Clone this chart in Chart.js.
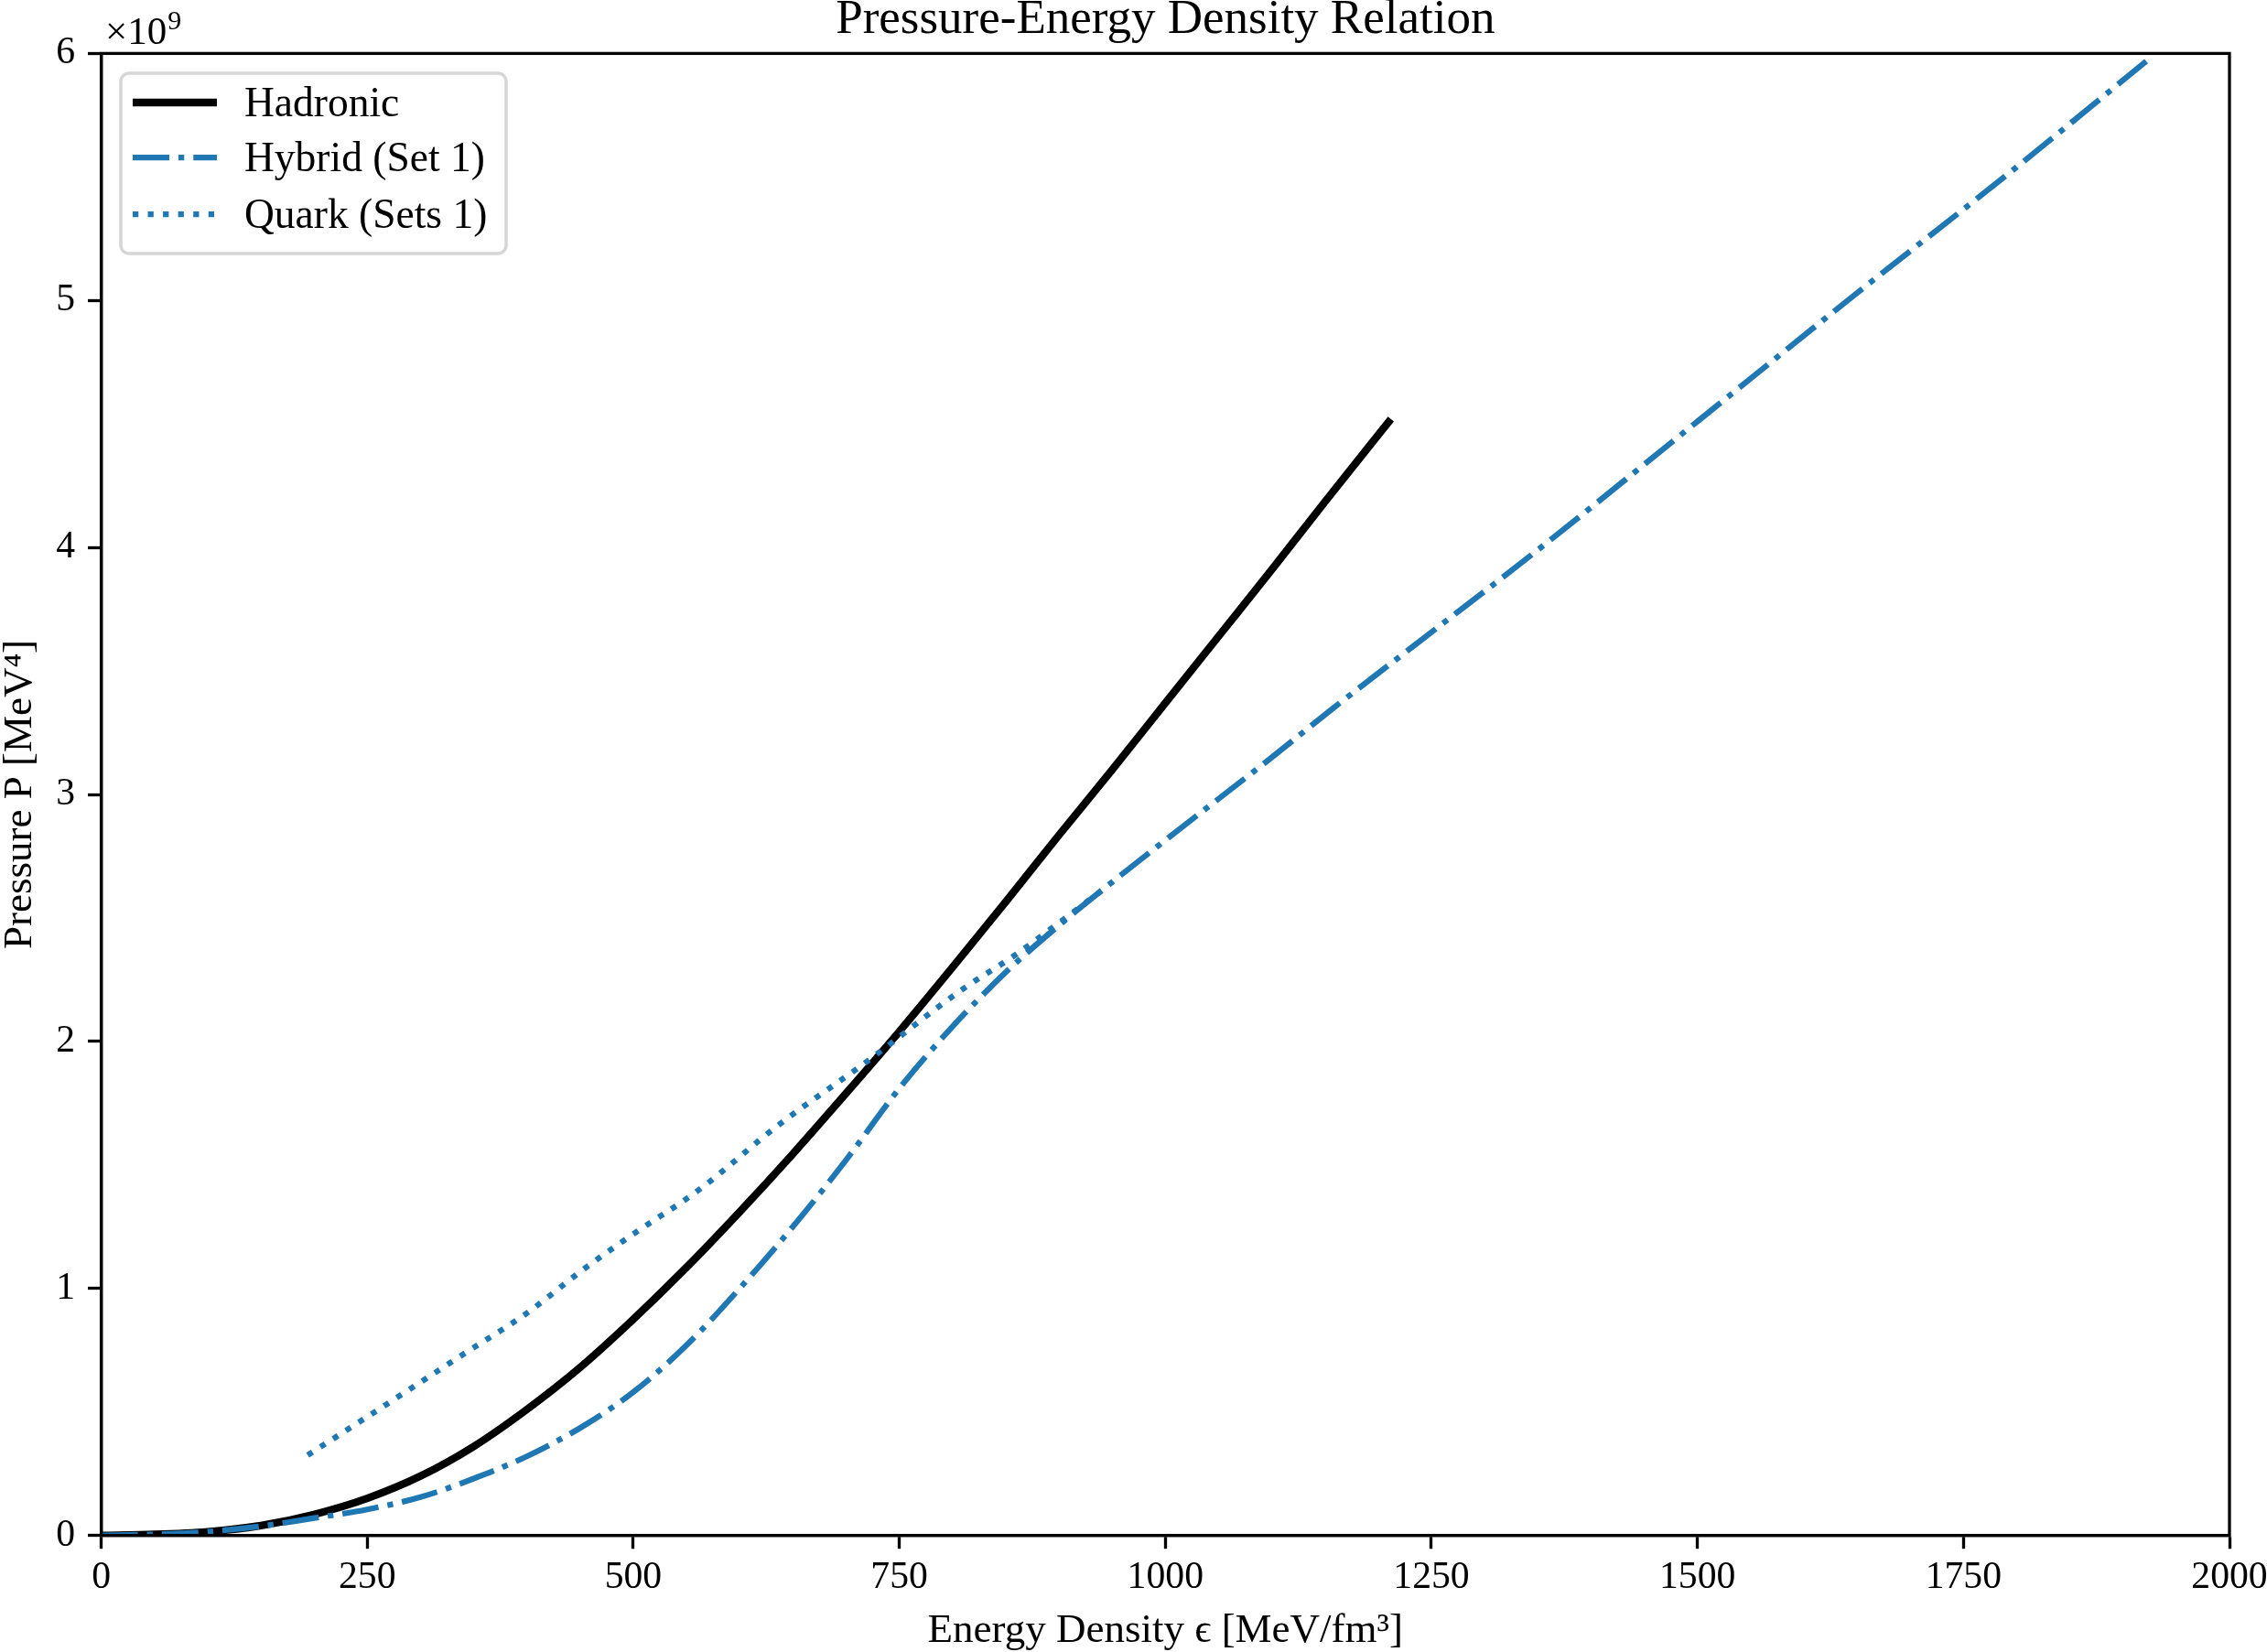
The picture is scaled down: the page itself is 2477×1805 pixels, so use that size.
<!DOCTYPE html>
<html>
<head>
<meta charset="utf-8">
<script src="https://cdn.jsdelivr.net/npm/chart.js@4.4.1/dist/chart.umd.min.js"></script>
<style>
  html, body { margin: 0; padding: 0; background: #fff; }
  #wrap { width: 2477px; height: 1805px; }
</style>
</head>
<body>
<div id="wrap"><canvas id="eosChart" width="2477" height="1805"></canvas></div>
<script>
// energy density [MeV/fm^3] vs pressure [x1e9 MeV^4]
const hadronicEps = [0, 50, 100, 150, 200, 250, 300, 350, 400, 450, 500, 550, 600, 650, 700, 750, 800, 850, 900, 950, 1000, 1050, 1100, 1150, 1212];
const hadronicP = [0, 0.004, 0.015, 0.04, 0.085, 0.15, 0.24, 0.36, 0.51, 0.68, 0.875, 1.085, 1.31, 1.545, 1.79, 2.04, 2.30, 2.565, 2.835, 3.10, 3.37, 3.64, 3.91, 4.185, 4.52];

const hybridEps = [0, 50, 100, 150, 200, 250, 300, 350, 400, 450, 500, 550, 600, 650, 700, 750, 800, 850, 900, 950, 1000, 1100, 1158, 1242, 1350, 1500, 1650, 1800, 1925];
const hybridP = [0, 0.004, 0.015, 0.037, 0.07, 0.105, 0.155, 0.23, 0.32, 0.435, 0.58, 0.77, 1.0, 1.25, 1.52, 1.81, 2.06, 2.28, 2.47, 2.645, 2.815, 3.15, 3.35, 3.63, 3.99, 4.51, 5.03, 5.54, 5.98];

const quarkEps = [194, 250, 300, 339, 400, 454, 500, 562, 636, 720, 809, 859, 900, 940];
const quarkP = [0.325, 0.48, 0.62, 0.73, 0.90, 1.08, 1.22, 1.40, 1.66, 1.92, 2.21, 2.35, 2.48, 2.61];

const xTicks = [0, 250, 500, 750, 1000, 1250, 1500, 1750, 2000];
const yTicks = [0, 1, 2, 3, 4, 5, 6];

const SERIF = "'Liberation Serif', 'DejaVu Serif', serif";
const BLUE = '#1f77b4';

const toPoints = (xs, ys) => xs.map((x, i) => ({ x: x, y: ys[i] }));

// title, x10^9 offset text, legend and the full axes frame
const decorations = {
  id: 'decorations',
  afterDraw(chart) {
    const { ctx, chartArea: a } = chart;
    ctx.save();

    ctx.strokeStyle = '#000';
    ctx.lineWidth = 3.3;
    ctx.strokeRect(a.left, a.top, a.right - a.left, a.bottom - a.top);

    ctx.fillStyle = '#000';
    ctx.textAlign = 'center';
    ctx.textBaseline = 'alphabetic';
    ctx.font = '53px ' + SERIF;
    ctx.fillText('Pressure-Energy Density Relation', (a.left + a.right) / 2, 36);

    ctx.textAlign = 'left';
    ctx.font = '43px ' + SERIF;
    ctx.fillText('\u00d710', 115, 48);
    const w = ctx.measureText('\u00d710').width;
    ctx.font = '30px ' + SERIF;
    ctx.fillText('9', 115 + w + 1, 32);

    // legend box
    const bx = 132, by = 80, bw = 421, bh = 197, r = 9;
    ctx.beginPath();
    ctx.roundRect(bx, by, bw, bh, r);
    ctx.fillStyle = 'rgba(255,255,255,0.8)';
    ctx.fill();
    ctx.lineWidth = 3.5;
    ctx.strokeStyle = '#d6d6d6';
    ctx.stroke();

    const rows = [112, 172, 234];
    chart.data.datasets.forEach((ds, i) => {
      const y = rows[i];
      ctx.beginPath();
      ctx.setLineDash(ds.borderDash || []);
      ctx.lineWidth = ds.borderWidth;
      ctx.strokeStyle = ds.borderColor;
      ctx.lineCap = 'butt';
      ctx.moveTo(145, y);
      ctx.lineTo(237, y);
      ctx.stroke();
      ctx.setLineDash([]);
      ctx.fillStyle = '#000';
      ctx.font = '45.5px ' + SERIF;
      ctx.fillText(ds.label, 267, y + 15);
    });
    ctx.restore();
  }
};

const ctx = document.getElementById('eosChart').getContext('2d');
const eosChart = new Chart(ctx, {
  type: 'scatter',
  data: {
    datasets: [{
      label: 'Hadronic',
      data: toPoints(hadronicEps, hadronicP),
      showLine: true,
      borderColor: '#000000',
      borderWidth: 8.3,
      pointRadius: 0,
      cubicInterpolationMode: 'monotone',
      order: 3
    }, {
      label: 'Hybrid (Set 1)',
      data: toPoints(hybridEps, hybridP),
      showLine: true,
      borderColor: BLUE,
      borderWidth: 6.25,
      borderDash: [40, 10, 6.25, 10],
      pointRadius: 0,
      cubicInterpolationMode: 'monotone',
      order: 2
    }, {
      label: 'Quark (Sets 1)',
      data: toPoints(quarkEps, quarkP),
      showLine: true,
      borderColor: BLUE,
      borderWidth: 6.25,
      borderDash: [6.25, 10.3],
      pointRadius: 0,
      cubicInterpolationMode: 'monotone',
      order: 1
    }]
  },
  options: {
    responsive: false,
    devicePixelRatio: 1,
    animation: false,
    layout: {
      padding: { top: 58.4, right: 41, left: 0, bottom: 0 }
    },
    plugins: {
      legend: { display: false },
      tooltip: { enabled: false }
    },
    scales: {
      x: {
        type: 'linear',
        min: 0,
        max: 2000,
        afterFit: s => { s.height = 127.4; s.paddingLeft = 0; s.paddingRight = 0; },
        afterBuildTicks: s => { s.ticks = xTicks.map(v => ({ value: v })); },
        grid: { drawOnChartArea: false, drawTicks: true, tickLength: 14.6, tickWidth: 3.3, tickColor: '#000' },
        border: { display: true, color: '#000', width: 3.3 },
        ticks: {
          color: '#000',
          padding: 7,
          maxRotation: 0,
          font: { family: SERIF, size: 41.7 },
          callback: v => String(v)
        },
        title: {
          display: true,
          text: 'Energy Density \u03f5 [MeV/fm\u00b3]',
          color: '#000',
          font: { family: SERIF, size: 45, lineHeight: 1 },
          padding: { top: 0, bottom: 0 }
        }
      },
      y: {
        type: 'linear',
        min: 0,
        max: 6,
        afterFit: s => { s.width = 110.6; s.paddingTop = 0; s.paddingBottom = 0; },
        afterBuildTicks: s => { s.ticks = yTicks.map(v => ({ value: v })); },
        grid: { drawOnChartArea: false, drawTicks: true, tickLength: 14.6, tickWidth: 3.3, tickColor: '#000' },
        border: { display: true, color: '#000', width: 3.3 },
        ticks: {
          color: '#000',
          padding: 14,
          font: { family: SERIF, size: 41.7 },
          callback: v => String(v)
        },
        title: {
          display: true,
          text: 'Pressure P [MeV\u2074]',
          color: '#000',
          font: { family: SERIF, size: 45, lineHeight: 1 },
          padding: { top: 0, bottom: 0 }
        }
      }
    }
  },
  plugins: [decorations]
});
</script>
</body>
</html>
